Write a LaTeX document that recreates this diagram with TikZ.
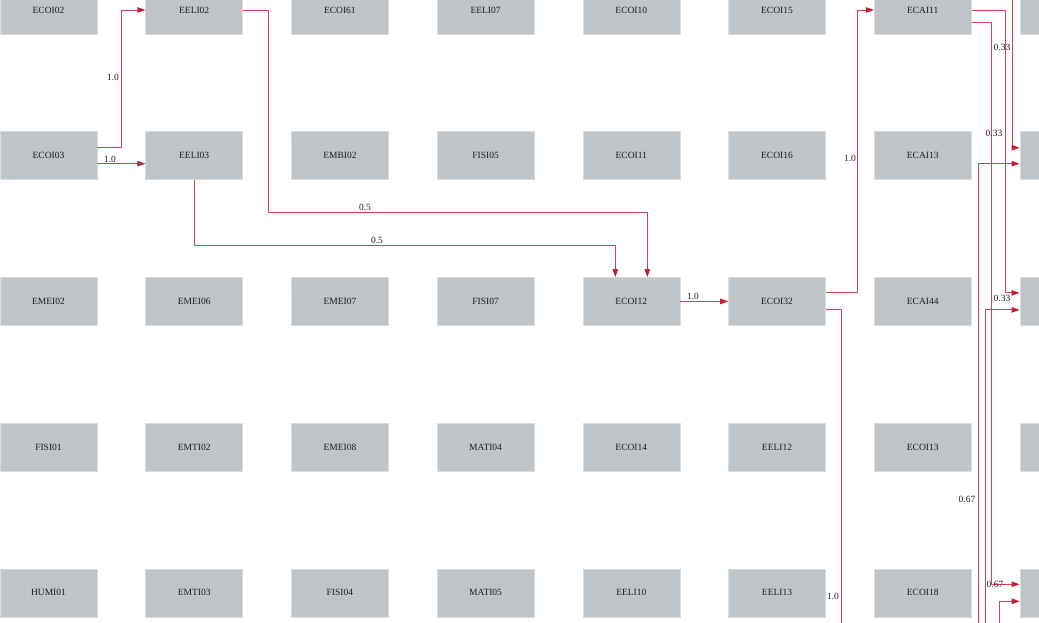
\documentclass[tikz,border=0pt]{standalone}
\usepackage{fontspec}
\setmainfont{Liberation Serif}
\usepackage{xcolor}
\usepackage{tikz}
\usetikzlibrary{arrows.meta}
\definecolor{ink}{HTML}{1E1E1E}
\definecolor{boxfill}{HTML}{BFC4C8}
\definecolor{boxline}{HTML}{D8DCDF}
\definecolor{flow}{HTML}{D2405A}
\definecolor{tip}{HTML}{C41E3A}
\tikzset{
  course/.style={rectangle, fill=boxfill, draw=boxline, line width=0.6pt, minimum width=97pt, minimum height=48pt, inner sep=0pt, text=ink, font=\fontsize{9.5}{11}\selectfont},
  link/.style={draw=flow, line width=0.9pt, line join=round, -{Triangle[length=8pt,width=5.5pt,color=tip]}},
  lab/.style={text=ink, inner sep=0pt, font=\fontsize{9.5}{11}\selectfont},
}
\begin{document}
\begin{tikzpicture}[x=1pt, y=-1pt]
  \useasboundingbox (0,0) rectangle (1039,623);
  \clip (0,0) rectangle (1039,623);
  \foreach \row [count=\r from 0] in {
      {ECOI02,EELI02,ECOI61,EELI07,ECOI10,ECOI15,ECAI11},
      {ECOI03,EELI03,EMBI02,FISI05,ECOI11,ECOI16,ECAI13},
      {EMEI02,EMEI06,EMEI07,FISI07,ECOI12,ECOI32,ECAI44},
      {FISI01,EMTI02,EMEI08,MATI04,ECOI14,EELI12,ECOI13},
      {HUMI01,EMTI03,FISI04,MATI05,EELI10,EELI13,ECOI18}}
    \foreach \name [count=\c from 0] in \row
      \node[course] (\name) at ({48.5+145.7*\c},{10+145.7*\r}) {\name};
  % right column, cut off
  \foreach \r in {0,...,4}
    \node[course] (R\r) at ({48.5+145.7*7},{10+145.7*\r}) {};
  \coordinate (top1) at (1012,-30);
  \coordinate (out32) at (841,660);
  \coordinate (bot1) at (978,660);
  \coordinate (bot2) at (985,660);
  \coordinate (bot3) at (999,660);
  \draw[link] ([yshift=8]ECOI03.east) -- ++(24,0) |- (EELI02.west);
  \draw[link] ([yshift=-8]ECOI03.east) -- ([yshift=-8]EELI03.west);
  \draw[link] (EELI02.east) -- ++(25,0) -- ++(0,202) -| ([xshift=16]ECOI12.north);
  \draw[link] (EELI03.south) -- ++(0,65) -| ([xshift=-16]ECOI12.north);
  \draw[link] (ECOI12.east) -- (ECOI32.west);
  \draw[link] ([yshift=8.5]ECOI32.east) -- ++(32,0) |- (ECAI11.west);
  \draw[link, -] ([yshift=-8]ECOI32.east) -| (out32);
  \draw[link] (ECAI11.east) -- ++(34,0) |- ([yshift=8.5]R2.west);
  \draw[link] ([yshift=-12]ECAI11.east) -- ++(20,0) |- ([yshift=8.5]R4.west);
  \draw[link] (top1) |- ([yshift=8]R1.west);
  \draw[link] (bot1) |- ([yshift=-8]R1.west);
  \draw[link] (bot2) |- ([yshift=-8.5]R2.west);
  \draw[link] (bot3) |- ([yshift=-8.5]R4.west);
  \node[lab] at (113,77) {1.0};
  \node[lab] at (110,159) {1.0};
  \node[lab] at (365,207) {0.5};
  \node[lab] at (377,240) {0.5};
  \node[lab] at (693,296) {1.0};
  \node[lab] at (850,158) {1.0};
  \node[lab] at (833,596) {1.0};
  \node[lab] at (1002,47) {0.33};
  \node[lab] at (994,133) {0.33};
  \node[lab] at (1002,298) {0.33};
  \node[lab] at (967,499) {0.67};
  \node[lab] at (995,584) {0.67};
\end{tikzpicture}
\end{document}
